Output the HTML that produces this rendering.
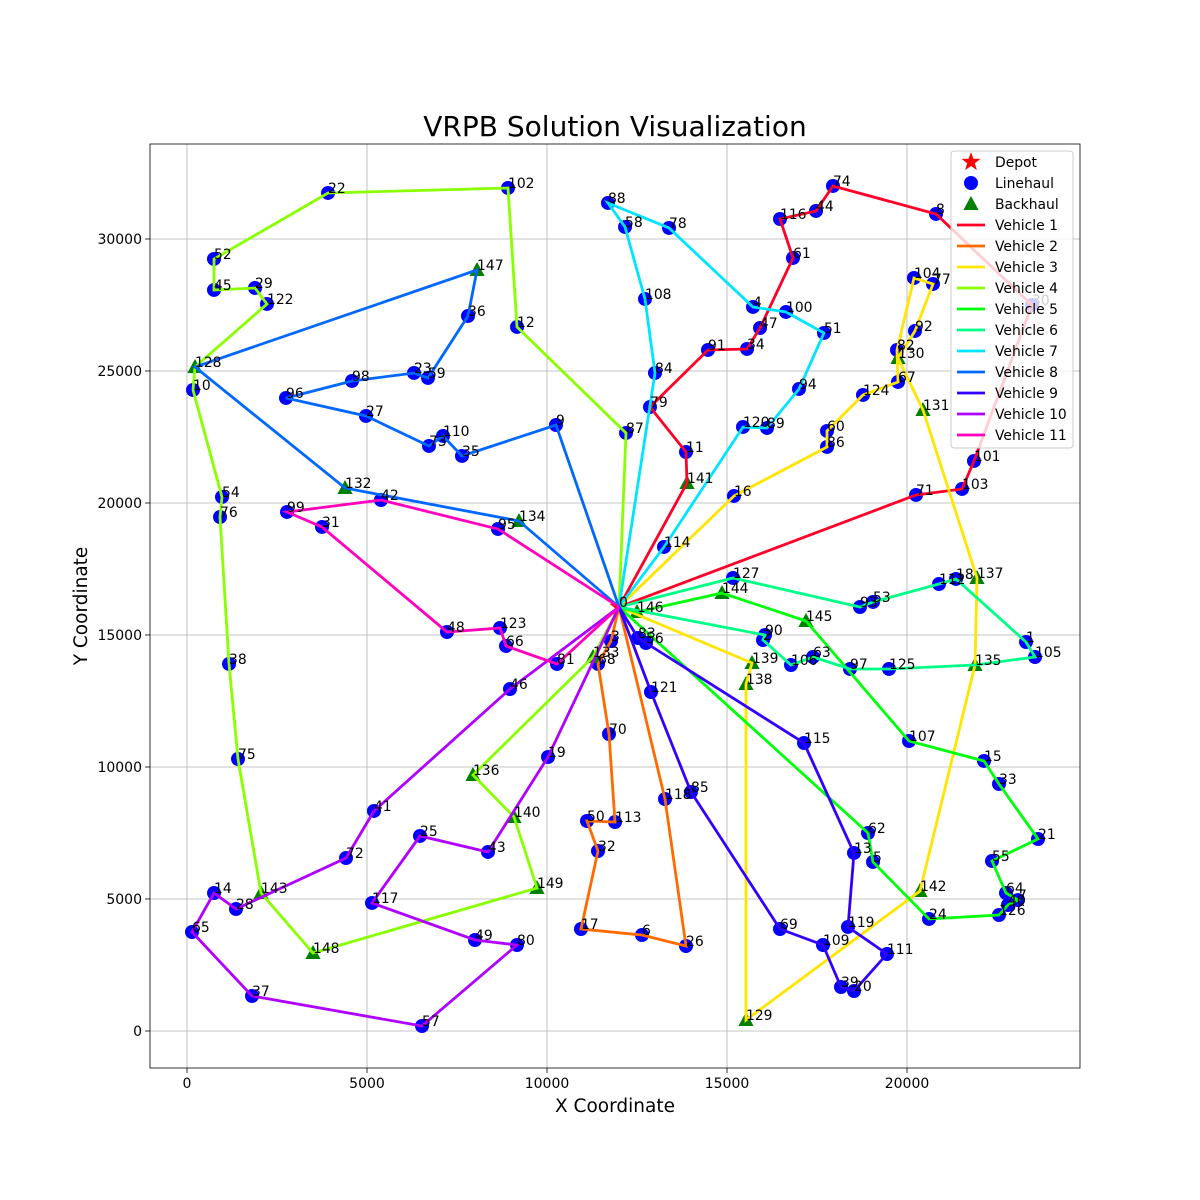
<!DOCTYPE html>
<html><head><meta charset="utf-8"><title>VRPB Solution Visualization</title>
<style>html,body{margin:0;padding:0;background:#fff;}svg{display:block;font-family:"DejaVu Sans","Liberation Sans",sans-serif;}</style>
</head><body>
<svg id="chart" xmlns="http://www.w3.org/2000/svg" width="1200" height="1200" viewBox="0 0 1200 1200">
<rect width="1200" height="1200" fill="#fff"/>
<text x="615" y="136" font-size="28" text-anchor="middle">VRPB Solution Visualization</text>
<g id="grid"></g>
<g id="axes"></g>
<g id="marks"></g>
<g id="labels"></g>
<text x="615" y="1112" font-size="18.5" text-anchor="middle">X Coordinate</text>
<text x="0" y="0" font-size="18.5" text-anchor="middle" transform="translate(87,606) rotate(-90)">Y Coordinate</text>
<g id="legend"></g>
</svg>
<script>
const xTicks = [0, 5000, 10000, 15000, 20000];
const yTicks = [0, 5000, 10000, 15000, 20000, 25000, 30000];
const nodeX = [12000,23306,16000,11778,15722,19056,12639,23083,20806,10250,
167,13861,9167,18528,750,22139,15194,10944,21361,10028,
18528,23639,3917,6306,20611,6472,13861,4972,1361,1889,
23472,3750,11417,22556,15556,7639,7806,1806,1167,18167,
22806,5194,5389,8361,17472,750,8972,15917,7222,8000,
11111,17694,750,19056,972,22361,12750,6528,12167,6694,
17778,16833,18917,17389,22750,139,8861,19750,11417,16472,
11722,20250,4417,6722,17944,1417,917,20722,13389,12861,
9167,10278,19722,12528,13000,14000,17778,12195,11694,16111,
16056,14472,20222,18694,17000,8639,2750,18417,4583,2778,
16639,21861,8917,21528,20194,23556,16778,20056,12722,17667,
7111,19444,20889,11889,13250,17139,16472,5139,13278,18361,
15444,12889,2222,8694,18778,19500,22556,15167,222,15528,
19750,20444,4389,11278,9222,21889,7944,21944,15528,15694,
9083,13889,20361,2056,14861,17194,12500,8056,3500,9722];
const nodeY = [16061,14735,14811,14773,27425,6402,3636,4962,30948,22955,
24281,21932,26668,6743,5227,10228,20266,3864,17122,10379,
1515,7273,31743,24925,4243,7387,3220,23296,4621,28145,
27501,19092,6818,9356,25834,21781,27084,1326,13902,1667,
4773,8334,20114,6781,31062,28069,12955,26630,15114,3447,
7955,26440,29243,16251,20228,6440,14697,189,30456,24736,
22728,29281,7500,14167,5227,3750,14584,24584,13902,3864,
11250,20304,6553,22160,32009,10303,19470,28296,30418,23637,
3258,13902,25796,14887,24925,9053,22122,22652,31365,22842,
15000,25796,26516,16061,24319,19016,23978,13713,24622,19660,
27236,21592,31933,20531,28524,14167,13864,10985,27728,3258,
22539,2917,16932,7917,18334,10909,30758,4849,8788,3940,
22880,12841,27539,15266,24092,13713,4394,17160,25152,417,
25493,23523,20569,14167,19319,13864,9697,17160,13144,13940,
8106,20758,5303,5227,16591,15531,15872,28827,2955,5417];
const firstBackhaul = 128;
const route1 = [0,141,11,79,91,34,47,61,116,44,74,8,30,101,103,71,0];
const route2 = [0,118,26,6,17,32,50,113,70,68,3,0];
const route3 = [0,16,86,60,124,67,82,104,77,92,130,131,137,135,142,129,138,139,0];
const route4 = [0,87,12,102,22,52,45,29,122,128,10,54,76,38,75,143,148,149,140,136,133,0];
const route5 = [0,146,144,145,107,15,33,21,55,64,7,40,126,24,5,62,0];
const route6 = [0,127,93,53,112,18,1,105,135,125,97,63,106,2,90,0];
const route7 = [0,114,120,89,94,51,100,4,78,88,58,108,84,0];
const route8 = [0,9,35,110,73,27,96,98,23,59,36,147,128,132,134,0];
const route9 = [0,83,56,115,13,119,111,20,39,109,69,85,121,0];
const route10 = [0,46,41,72,28,14,65,37,57,80,49,117,25,43,19,0];
const route11 = [0,95,42,99,31,48,123,66,81,0];
const routes = [route1,route2,route3,route4,route5,route6,route7,route8,route9,route10,route11];
const routeColors = ['#ff0029','#ff6a00','#ffe500','#8aff00','#00ff0a','#00ff86','#00e5ff','#0068ff','#3300ff','#b000ff','#ff00bc'];

const NS = 'http://www.w3.org/2000/svg';
const PL = 150, PR = 1080, PT = 144, PB = 1068;
function sx(v){ return 187 + v * 0.036; }
function sy(v){ return 1031 - v * 0.0264; }
function mk(tag, attrs, parent){ const e = document.createElementNS(NS, tag); for (const k in attrs) e.setAttribute(k, attrs[k]); parent.appendChild(e); return e; }

const grid = document.getElementById('grid');
const axes = document.getElementById('axes');
xTicks.forEach(t => {
  const g = mk('line', {x1:sx(t), x2:sx(t), y1:PT, y2:PB, stroke:'#b0b0b0', 'stroke-width':0.8}, grid);
  
  
  const tk = mk('line', {x1:sx(t), x2:sx(t), y1:PB, y2:PB+5, stroke:'#000', 'stroke-width':0.8}, axes);
  
  
  const tl = mk('text', {x:sx(t), y:PB+20, 'font-size':14, 'text-anchor':'middle'}, axes);
  tl.textContent = String(t);
  
  
});
yTicks.forEach(t => {
  const g = mk('line', {x1:PL, x2:PR, y1:sy(t), y2:sy(t), stroke:'#b0b0b0', 'stroke-width':0.8}, grid);
  
  
  const tk = mk('line', {x1:PL-5, x2:PL, y1:sy(t), y2:sy(t), stroke:'#000', 'stroke-width':0.8}, axes);
  
  
  const tl = mk('text', {x:PL-8, y:sy(t)+5, 'font-size':14, 'text-anchor':'end'}, axes);
  tl.textContent = String(t);
  
  
});
const frame = mk('rect', {x:PL, y:PT, width:PR-PL, height:PB-PT, fill:'none', stroke:'#000', 'stroke-width':0.8}, axes);



const marks = document.getElementById('marks');
function triPts(cx, cy, r){ return `${cx},${cy-r} ${cx-r*0.95},${cy+r*0.75} ${cx+r*0.95},${cy+r*0.75}`; }
function starPts(cx, cy, R){ let p=[]; for(let i=0;i<10;i++){ const a=-Math.PI/2+i*Math.PI/5; const r=i%2?R*0.4:R; p.push((cx+r*Math.cos(a)).toFixed(1)+','+(cy+r*Math.sin(a)).toFixed(1)); } return p.join(' '); }

for (let i = 1; i < nodeX.length; i++) {
  const cx = sx(nodeX[i]), cy = sy(nodeY[i]);
  if (i >= firstBackhaul) {
    const t = mk('polygon', {points:triPts(cx, cy, 8), fill:'#008000'}, marks);
    
    
  } else {
    const c = mk('circle', {cx:cx, cy:cy, r:7, fill:'#0000ff'}, marks);
    
    
  }
}
const dep = mk('polygon', {points:starPts(sx(nodeX[0]), sy(nodeY[0]), 10), fill:'#ff0000'}, marks);



routes.forEach((r, k) => {
  const pts = r.map(n => sx(nodeX[n]).toFixed(1) + ',' + sy(nodeY[n]).toFixed(1)).join(' ');
  const pl = mk('polyline', {points:pts, fill:'none', stroke:routeColors[k], 'stroke-width':2.8, 'stroke-linejoin':'miter'}, marks);
  
  
});

const labels = document.getElementById('labels');
for (let i = 0; i < nodeX.length; i++) {
  const t = mk('text', {x:sx(nodeX[i]), y:sy(nodeY[i]), 'font-size':13.9, fill:'#000'}, labels);
  t.textContent = String(i);
  
  
}

const legend = document.getElementById('legend');
const lb = mk('rect', {x:951, y:151, width:122, height:297, rx:3, fill:'#fff', 'fill-opacity':0.8, stroke:'#cccccc', 'stroke-width':1}, legend);


const legendNames = ['Depot','Linehaul','Backhaul','Vehicle 1','Vehicle 2','Vehicle 3','Vehicle 4','Vehicle 5','Vehicle 6','Vehicle 7','Vehicle 8','Vehicle 9','Vehicle 10','Vehicle 11'];
legendNames.forEach((nm, i) => {
  const y = 162 + i * 21;
  let m;
  if (i === 0) m = mk('polygon', {points:starPts(971, y, 10), fill:'#ff0000'}, legend);
  else if (i === 1) m = mk('circle', {cx:971, cy:y, r:7, fill:'#0000ff'}, legend);
  else if (i === 2) m = mk('polygon', {points:triPts(971, y, 8), fill:'#008000'}, legend);
  else m = mk('line', {x1:957, x2:985, y1:y, y2:y, stroke:routeColors[i-3], 'stroke-width':2.8}, legend);
  
  
  const t = mk('text', {x:995, y:y+5, 'font-size':13.9}, legend);
  t.textContent = nm;
  
  
});
</script>
</body></html>
